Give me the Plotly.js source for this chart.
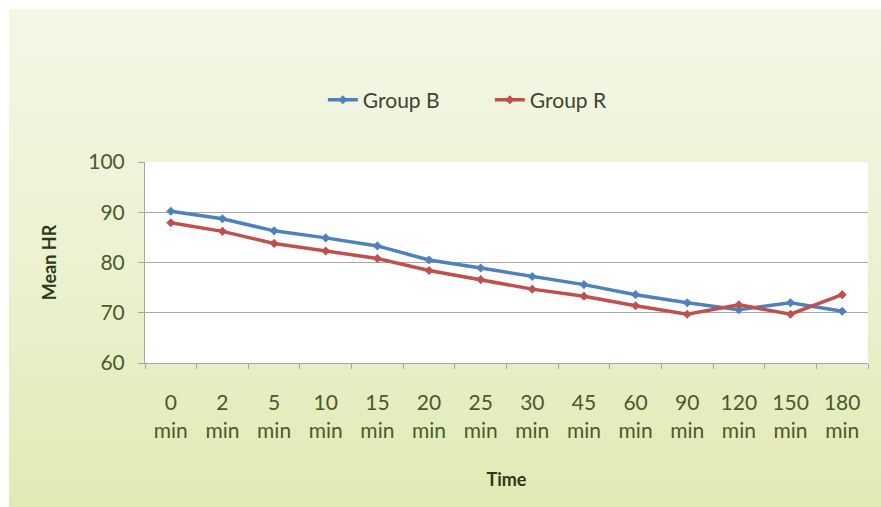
<!DOCTYPE html>
<html>
<head>
<meta charset="utf-8">
<script src="https://cdn.plot.ly/plotly-3.0.1.min.js"></script>
<style>
  html, body { margin: 0; padding: 0; background: #ffffff; }
  #wrap { position: relative; width: 881px; height: 507px; overflow: hidden; }
  #bg { position: absolute; left: 9px; top: 9px; right: 0; bottom: 0;
        background: linear-gradient(to bottom, #f4f6e6 0%, #eef2d4 45%, #e1eab4 100%); }
  #chart { position: absolute; left: 0; top: 0; width: 881px; height: 507px; }
</style>
</head>
<body>
<div id="wrap">
  <div id="bg"></div>
  <div id="chart"></div>
</div>
<script>
var categories = ['0<br>min', '2<br>min', '5<br>min', '10<br>min', '15<br>min', '20<br>min', '25<br>min',
                  '30<br>min', '45<br>min', '60<br>min', '90<br>min', '120<br>min', '150<br>min', '180<br>min'];
var groupB = [90.2, 88.7, 86.3, 84.9, 83.3, 80.5, 78.9, 77.2, 75.6, 73.6, 72.0, 70.6, 72.0, 70.3];
var groupR = [87.9, 86.2, 83.8, 82.3, 80.8, 78.4, 76.6, 74.7, 73.3, 71.4, 69.7, 71.6, 69.7, 73.6];
var seriesNames = ['Group B', 'Group R'];
var yTickVals = [60, 70, 80, 90, 100];

var tickColor = '#4a5a2c';
var titleColor = '#2c371b';

var traces = [
  {
    x: categories, y: groupB, name: seriesNames[0], type: 'scatter', mode: 'lines+markers',
    line: { color: '#4f81bd', width: 3.5 },
    marker: { symbol: 'diamond', size: 7, color: '#4f81bd' }
  },
  {
    x: categories, y: groupR, name: seriesNames[1], type: 'scatter', mode: 'lines+markers',
    line: { color: '#c0504d', width: 3.5 },
    marker: { symbol: 'diamond', size: 7, color: '#c0504d' }
  }
];

var layout = {
  width: 881, height: 507,
  paper_bgcolor: 'rgba(0,0,0,0)',
  plot_bgcolor: '#ffffff',
  margin: { l: 145, r: 13, t: 162, b: 144 },
  font: { family: 'Lato, "Open Sans", sans-serif', size: 18, color: tickColor },
  showlegend: true,
  legend: {
    orientation: 'h', x: 0.246, xanchor: 'left', y: 1.308, yanchor: 'middle',
    font: { size: 21, color: '#3c4530' }, bgcolor: 'rgba(0,0,0,0)',
    entrywidth: 122, entrywidthmode: 'pixels'
  },
  xaxis: {
    type: 'category',
    range: [-0.5, 13.5],
    showgrid: false,
    showline: true, linecolor: '#a6a6a6', linewidth: 1,
    ticks: 'outside', ticklen: 5, tickcolor: '#a6a6a6', tickson: 'boundaries',
    tickfont: { size: 21, color: tickColor },
    ticklabelstandoff: 21,
    title: { text: '<b>Time</b>', font: { size: 18, color: titleColor }, standoff: 32 },
    automargin: false,
    fixedrange: true
  },
  yaxis: {
    range: [60, 100],
    tickvals: yTickVals,
    showgrid: true, gridcolor: '#a9a9a9', gridwidth: 1,
    showline: true, linecolor: '#a6a6a6', linewidth: 1,
    ticks: 'outside', ticklen: 6, tickcolor: '#a6a6a6',
    tickfont: { size: 21, color: tickColor },
    ticklabelstandoff: 9,
    zeroline: false,
    title: { text: '<b>Mean HR</b>', font: { size: 18, color: titleColor }, standoff: 26 },
    automargin: false,
    fixedrange: true
  }
};

Plotly.newPlot('chart', traces, layout, { displayModeBar: false, staticPlot: true });
</script>
</body>
</html>
